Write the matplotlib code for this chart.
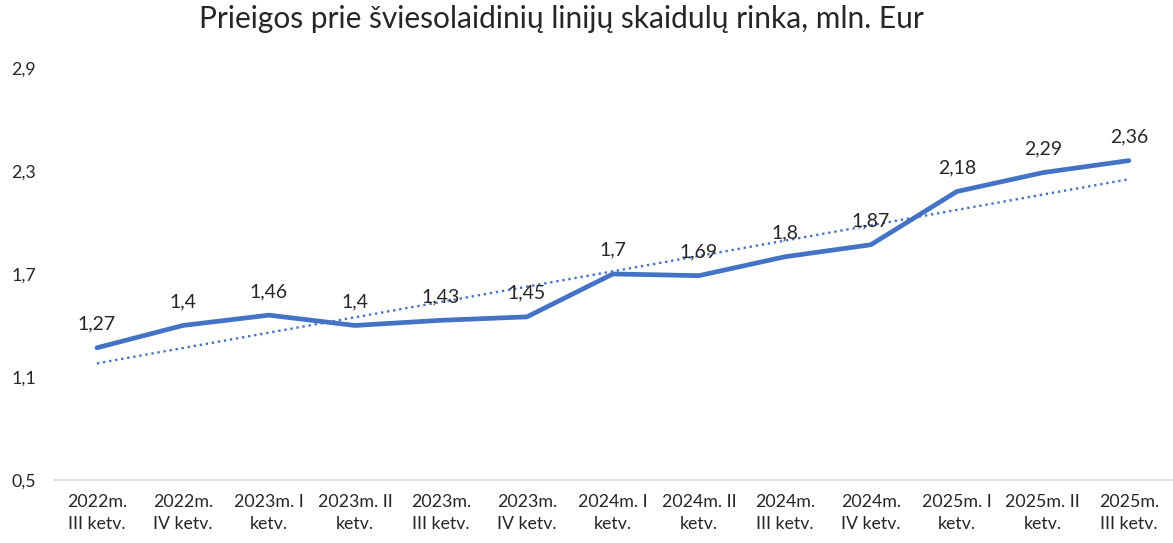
import numpy as np
import matplotlib
matplotlib.use("Agg")
import matplotlib.pyplot as plt

plt.rcParams['font.family'] = ['Lato', 'DejaVu Sans']

periods = ["2022m.\nIII ketv.", "2022m.\nIV ketv.", "2023m. I\nketv.", "2023m. II\nketv.",
           "2023m.\nIII ketv.", "2023m.\nIV ketv.", "2024m. I\nketv.", "2024m. II\nketv.",
           "2024m.\nIII ketv.", "2024m.\nIV ketv.", "2025m. I\nketv.", "2025m. II\nketv.",
           "2025m.\nIII ketv."]
values = [1.27, 1.4, 1.46, 1.4, 1.43, 1.45, 1.7, 1.69, 1.8, 1.87, 2.18, 2.29, 2.36]
yticks = [0.5, 1.1, 1.7, 2.3, 2.9]

blue = "#4472C4"

fig = plt.figure(figsize=(11.73, 5.43), dpi=100)
ax = fig.add_axes([0.046, 0.116, 0.953, 0.759])

x = np.arange(len(values))
ax.plot(x, values, color=blue, lw=3.4, solid_capstyle='round', solid_joinstyle='round')

# linear trend
k, b = np.polyfit(x, values, 1)
ax.plot(x, k * x + b, color=blue, lw=1.7, linestyle=(0, (1, 1.6)))

for xi, v in zip(x, values):
    ax.annotate(f"{v:g}".replace(".", ","), (xi, v), xytext=(0, 11), textcoords="offset points",
                ha="center", va="bottom", fontsize=14, color="#262626")

ax.set_xlim(-0.5, len(values) - 0.5)
ax.set_ylim(0.5, 2.9)
ax.set_yticks(yticks)
ax.set_yticklabels([f"{t:.1f}".replace(".", ",") for t in yticks])
ax.set_xticks(x)
ax.set_xticklabels(periods, linespacing=1.5)
ax.tick_params(axis="both", length=0, labelsize=12.8, labelcolor="#262626")
ax.tick_params(axis="x", pad=10)
ax.tick_params(axis="y", pad=13)

for s in ["top", "right", "left"]:
    ax.spines[s].set_visible(False)
ax.spines["bottom"].set_color("#D9D9D9")
ax.spines["bottom"].set_linewidth(1.2)

fig.suptitle("Prieigos prie šviesolaidinių linijų skaidulų rinka, mln. Eur", x=0.479, y=0.99,
             fontsize=21.5, color="#262626")

fig.savefig("out.png", dpi=100)
